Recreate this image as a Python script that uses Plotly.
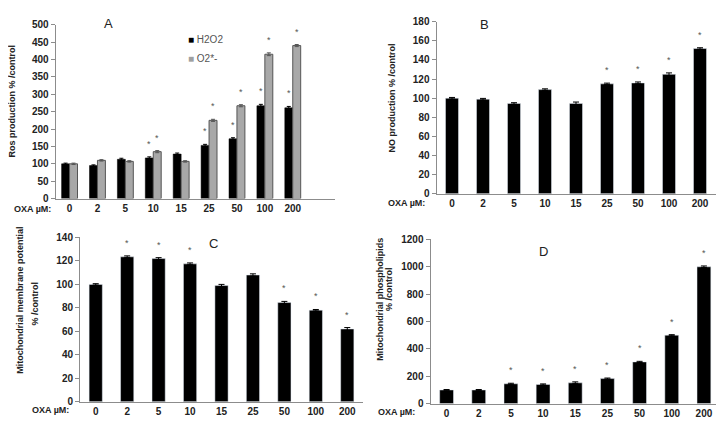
import plotly.graph_objects as go

# ---------------- data ----------------
doses = ["0", "2", "5", "10", "15", "25", "50", "100", "200"]

ros_h2o2 = [100, 95, 113, 117, 128, 153, 172, 267, 261]
ros_h2o2_err = [2, 2, 3, 3, 3, 3, 3, 4, 4]
ros_h2o2_sig = [0, 0, 0, 1, 0, 1, 1, 1, 1]
ros_o2 = [100, 110, 107, 135, 107, 225, 267, 415, 440]
ros_o2_err = [2, 2, 2, 3, 2, 3, 3, 4, 3]
ros_o2_sig = [0, 0, 0, 1, 0, 1, 1, 1, 1]

no_prod = [100, 99, 94.5, 109, 94.5, 115, 116, 125, 152]
no_err = [0.8, 0.8, 0.8, 0.8, 1.5, 0.8, 1.0, 1.5, 0.8]
no_sig = [0, 0, 0, 0, 0, 1, 1, 1, 1]

mmp = [100, 123.5, 122, 117.5, 99, 108, 84.5, 78, 62]
mmp_err = [0.6, 0.8, 0.8, 0.8, 1.0, 1.0, 1.0, 0.6, 1.2]
mmp_sig = [0, 1, 1, 1, 0, 0, 1, 1, 1]

phospho = [100, 100, 145, 140, 152, 183, 305, 500, 1000]
phospho_err = [3, 3, 4, 4, 7, 4, 4, 4, 6]
phospho_sig = [0, 0, 1, 1, 1, 1, 1, 1, 1]

W, H = 724, 423
TXT = "#222222"
AX = "#8c8c8c"
FAM = "Liberation Sans, Arial, sans-serif"


def px(x0, x1):
    return [x0 / W, x1 / W]


def py(top, bottom):
    return [1 - bottom / H, 1 - top / H]


fig = go.Figure()

# Panel A
fig.add_trace(go.Bar(x=doses, y=ros_h2o2, name="H2O2", marker=dict(color="#000000", line=dict(color="#000000", width=0.5)),
                     error_y=dict(type="data", array=ros_h2o2_err, color="#000000", thickness=1, width=2),
                     xaxis="x", yaxis="y", offsetgroup="a1"))
fig.add_trace(go.Bar(x=doses, y=ros_o2, name="O2*-", marker=dict(color="#a8a8a8", line=dict(color="#555555", width=1)),
                     error_y=dict(type="data", array=ros_o2_err, color="#555555", thickness=1, width=2),
                     xaxis="x", yaxis="y", offsetgroup="a2"))
# Panel B
fig.add_trace(go.Bar(x=doses, y=no_prod, width=0.42, marker=dict(color="#000000"),
                     error_y=dict(type="data", array=no_err, color="#000000", thickness=1, width=3),
                     xaxis="x2", yaxis="y2"))
# Panel C
fig.add_trace(go.Bar(x=doses, y=mmp, width=0.42, marker=dict(color="#000000"),
                     error_y=dict(type="data", array=mmp_err, color="#000000", thickness=1, width=3),
                     xaxis="x3", yaxis="y3"))
# Panel D
fig.add_trace(go.Bar(x=doses, y=phospho, width=0.43, marker=dict(color="#000000"),
                     error_y=dict(type="data", array=phospho_err, color="#000000", thickness=1, width=3),
                     xaxis="x4", yaxis="y4"))

tickfont = dict(family=FAM, size=10, color=TXT, weight="bold")


def xax(dom, anchor, rng):
    return dict(domain=dom, anchor=anchor, type="category", range=rng, showline=True, linecolor=AX,
                linewidth=1, ticks="", showgrid=False, zeroline=False, tickfont=tickfont,
                ticklabelstandoff=0)


def yax(dom, anchor, rng, dtick):
    return dict(domain=dom, anchor=anchor, range=rng, dtick=dtick, showline=True, linecolor=AX,
                linewidth=1, ticks="outside", ticklen=4, tickcolor=AX, showgrid=False,
                zeroline=False, tickfont=tickfont)


fig.update_layout(
    width=W, height=H, margin=dict(l=0, r=0, t=0, b=0),
    paper_bgcolor="white", plot_bgcolor="white",
    showlegend=False, barmode="group", bargap=0.43, bargroupgap=0,
    font=dict(family=FAM, color=TXT),
    xaxis=xax(px(47.6, 326.6), "y", [-0.5, 9.5]),
    yaxis=yax(py(11, 190), "x", [0, 500], 50),
    xaxis2=xax(px(428.5, 707.5), "y2", [-0.5, 8.5]),
    yaxis2=yax(py(8, 185), "x2", [0, 180], 20),
    xaxis3=xax(px(72, 355), "y3", [-0.5, 8.5]),
    yaxis3=yax(py(230, 399), "x3", [0, 140], 20),
    xaxis4=xax(px(422.5, 712), "y4", [-0.5, 8.5]),
    yaxis4=yax(py(232, 401), "x4", [0, 1200], 200),
)


def ann(x, y, text, size=9, angle=0, bold=True, color=TXT, xanchor="center"):
    fig.add_annotation(x=x / W, y=1 - y / H, xref="paper", yref="paper", text=text, showarrow=False,
                       textangle=angle, xanchor=xanchor, yanchor="middle",
                       font=dict(family=FAM, size=size, color=color, weight="bold" if bold else "normal"))


# panel letters
ann(100, 10, "A", size=13, bold=False)
ann(477, 11, "B", size=13, bold=False)
ann(205, 236, "C", size=13, bold=False)
ann(535, 244, "D", size=13, bold=False)

# y titles
ann(4, 90, "Ros production % /control", angle=-90)
ann(384, 87, "NO production % /control", angle=-90)
ann(12, 295, "Mitochondrial membrane potential", angle=-90)
ann(27, 298, "% /control", angle=-90)
ann(372, 294, "Mitochondrial phospholipids", angle=-90)
ann(381, 283, "% /control", angle=-90)

# OXA labels
ann(24, 201, "OXA µM:")
ann(398, 195, "OXA µM:")
ann(42, 408, "OXA µM:")
ann(388, 410, "OXA µM:")

# legend for A
ann(178, 26, '<span style="color:#000000">■</span> H2O2', size=10, bold=False, color="#555555", xanchor="left")
ann(178, 46, '<span style="color:#a0a0a0">■</span> O2*-', size=10, bold=False, color="#555555", xanchor="left")


# significance asterisks (category index used as x position)
def stars(xref, yref, vals, errs, sig, xshift=0):
    for i, (v, e, s) in enumerate(zip(vals, errs, sig)):
        if s:
            fig.add_annotation(x=i, y=v + e, xref=xref, yref=yref, text="*", showarrow=False,
                               yanchor="bottom", yshift=6, xshift=xshift,
                               font=dict(family=FAM, size=9, color="#555555"))


stars("x", "y", ros_h2o2, ros_h2o2_err, ros_h2o2_sig, xshift=-4)
stars("x", "y", ros_o2, ros_o2_err, ros_o2_sig, xshift=4)
stars("x2", "y2", no_prod, no_err, no_sig)
stars("x3", "y3", mmp, mmp_err, mmp_sig)
stars("x4", "y4", phospho, phospho_err, phospho_sig)

fig.write_html("out.html")
